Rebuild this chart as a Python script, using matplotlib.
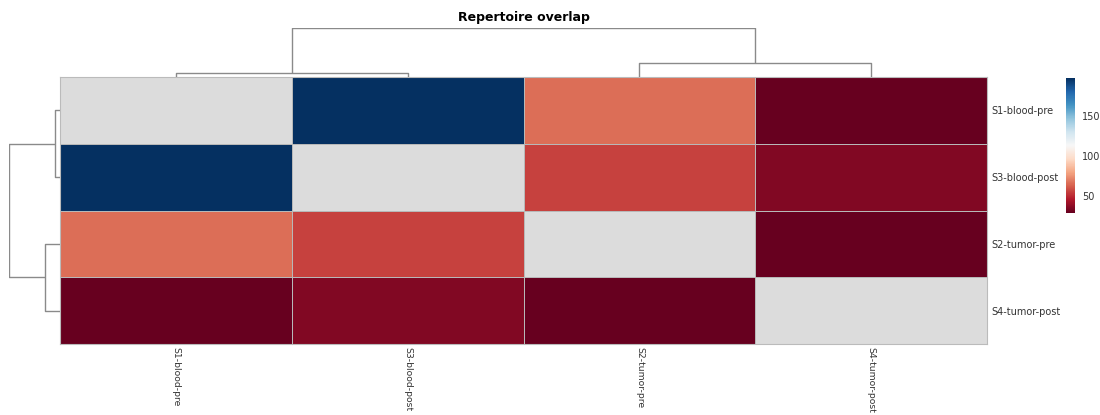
import numpy as np
import matplotlib
matplotlib.use("Agg")
import matplotlib.pyplot as plt

# Samples in clustered order (same for rows and columns)
samples = ["S1-blood-pre", "S3-blood-post", "S2-tumor-pre", "S4-tumor-post"]

# Pairwise repertoire overlap (diagonal undefined)
overlap = [
    [np.nan, 198.0, 66.0, 29.0],
    [198.0, np.nan, 56.0, 35.0],
    [66.0, 56.0, np.nan, 29.0],
    [29.0, 35.0, 29.0, np.nan],
]

# Linkage of the ordered leaves: (left pos, right pos, merge height)
# positions are leaf indices or midpoints of earlier clusters
merge_left = [0.0, 2.0, 0.5]
merge_right = [1.0, 3.0, 2.5]
merge_height = [0.09, 0.29, 1.0]
merge_left_base = [0.0, 0.0, 0.09]
merge_right_base = [0.0, 0.0, 0.29]

cbar_ticks = [50, 100, 150]

W, H = 1100, 415
fig = plt.figure(figsize=(W / 100, H / 100), dpi=100)


def fx(px):
    return px / W


def fy(py):
    return 1 - py / H


hm_l, hm_r, hm_t, hm_b = 60, 987, 77, 344
data = np.array(overlap)
n = len(samples)

ax = fig.add_axes([fx(hm_l), fy(hm_b), fx(hm_r - hm_l), (hm_b - hm_t) / H])
ax.set_facecolor("#dcdcdc")
masked = np.ma.masked_invalid(data)
vmin, vmax = np.nanmin(data), np.nanmax(data)
mesh = ax.pcolormesh(masked, cmap="RdBu", vmin=vmin, vmax=vmax,
                     edgecolor="#b8b8b8", linewidth=0.6)
ax.set_xlim(0, n)
ax.set_ylim(n, 0)
ax.set_xticks(np.arange(n) + 0.5)
ax.set_yticks(np.arange(n) + 0.5)
ax.set_xticklabels(samples, rotation=270, fontsize=6.7, color="#333333")
ax.set_yticklabels(samples, fontsize=7, color="#333333")
ax.yaxis.tick_right()
ax.tick_params(axis="x", length=0, pad=2)
ax.tick_params(axis="y", length=0, pad=3)
for s in ax.spines.values():
    s.set_color("#bbbbbb")
    s.set_linewidth(0.8)

dcol = "#8a8a8a"

# Column dendrogram
top_px = 28
axc = fig.add_axes([fx(hm_l), fy(hm_t), fx(hm_r - hm_l), (hm_t - top_px) / H])
for xl, xr, h, bl, br in zip(merge_left, merge_right, merge_height,
                             merge_left_base, merge_right_base):
    axc.plot([xl + 0.5, xl + 0.5, xr + 0.5, xr + 0.5], [bl, h, h, br],
             color=dcol, lw=1.0, solid_capstyle="butt")
axc.set_xlim(0, n)
axc.set_ylim(0, 1.0)
axc.axis("off")

# Row dendrogram
left_px = 9
axr = fig.add_axes([fx(left_px), fy(hm_b), fx(hm_l - left_px), (hm_b - hm_t) / H])
for xl, xr, h, bl, br in zip(merge_left, merge_right, merge_height,
                             merge_left_base, merge_right_base):
    axr.plot([bl, h, h, br], [xl + 0.5, xl + 0.5, xr + 0.5, xr + 0.5],
             color=dcol, lw=1.0, solid_capstyle="butt")
axr.set_ylim(n, 0)
axr.set_xlim(1.0, 0)
axr.axis("off")

# Colorbar
cb_l, cb_r, cb_t, cb_b = 1066, 1075, 78, 213
cax = fig.add_axes([fx(cb_l), fy(cb_b), fx(cb_r - cb_l), (cb_b - cb_t) / H])
cb = fig.colorbar(mesh, cax=cax, ticks=cbar_ticks)
cb.outline.set_visible(False)
cax.tick_params(length=0, labelsize=7, labelcolor="#333333", pad=5)

fig.text(fx((hm_l + hm_r) / 2), fy(18), "Repertoire overlap", ha="center",
         va="center", fontsize=9, fontweight="bold")

fig.savefig("out.png", dpi=100)
